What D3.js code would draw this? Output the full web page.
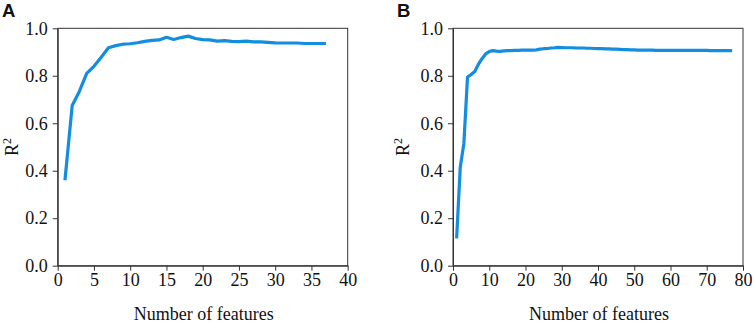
<!DOCTYPE html>
<html>
<head>
<meta charset="utf-8">
<script src="https://cdn.jsdelivr.net/npm/d3@7"></script>
<style>
  body { margin: 0; background: #fff; }
  svg text { font-family: "Liberation Serif", "Times New Roman", serif; fill: #111; }
  .domain, .tick line { stroke: #333; }
</style>
</head>
<body>
<svg id="chart" width="754" height="325"></svg>
<script>
// panel A: features 1..37
const featuresA = d3.range(1, 38);
const r2A = [0.36, 0.675, 0.735, 0.81, 0.84, 0.878, 0.918, 0.927, 0.933, 0.935,
  0.939, 0.945, 0.949, 0.951, 0.962, 0.953, 0.961, 0.967, 0.957, 0.952,
  0.951, 0.946, 0.948, 0.945, 0.944, 0.946, 0.943, 0.943, 0.941, 0.939,
  0.938, 0.938, 0.938, 0.936, 0.936, 0.936, 0.936];

// panel B: features 1..77
const featuresB = d3.range(1, 78);
const r2B = [0.115, 0.415, 0.515, 0.795, 0.805, 0.818, 0.848, 0.872, 0.892, 0.902,
  0.906, 0.904, 0.903, 0.905, 0.906, 0.906, 0.907, 0.907, 0.908, 0.908,
  0.908, 0.908, 0.909, 0.912, 0.914, 0.915, 0.917, 0.918, 0.920, 0.919,
  0.918, 0.918, 0.918, 0.917, 0.917, 0.917, 0.916, 0.916, 0.915, 0.914,
  0.914, 0.913, 0.913, 0.912, 0.912, 0.911, 0.910, 0.910, 0.909, 0.909,
  0.908, 0.908, 0.908, 0.908, 0.908, 0.907, 0.907, 0.907, 0.907, 0.907,
  0.907, 0.907, 0.907, 0.907, 0.907, 0.907, 0.907, 0.907, 0.907, 0.907,
  0.906, 0.906, 0.906, 0.906, 0.906, 0.906, 0.906];

const yTicks = [0, 0.2, 0.4, 0.6, 0.8, 1.0];
const xTicksA = [0, 5, 10, 15, 20, 25, 30, 35, 40];
const xTicksB = [0, 10, 20, 30, 40, 50, 60, 70, 80];

const svg = d3.select('#chart');
const lineColor = '#128de0';
const serif = '"Liberation Serif", "Times New Roman", serif';

function drawPanel(opts) {
  const { letter, letterX, left, right, xs, ys, xMax, xTicks, yTitleX } = opts;
  const top = 28.3, bottom = 265.7;

  const x = d3.scaleLinear().domain([0, xMax]).range([left, right]);
  const y = d3.scaleLinear().domain([0, 1]).range([bottom, top]);

  const g = svg.append('g');

  // frame
  g.append('rect')
    .attr('x', left).attr('y', top)
    .attr('width', right - left).attr('height', bottom - top)
    .attr('fill', 'none').attr('stroke', '#333').attr('stroke-width', 1);

  // x axis
  g.append('g')
    .attr('transform', `translate(0,${bottom})`)
    .call(d3.axisBottom(x).tickValues(xTicks).tickSize(5).tickSizeOuter(0).tickPadding(3))
    .call(a => a.selectAll('text').style('font-family', serif).style('font-size', '18px'));

  // y axis
  g.append('g')
    .attr('transform', `translate(${left},0)`)
    .call(d3.axisLeft(y).tickValues(yTicks).tickFormat(d3.format('.1f')).tickSize(5).tickSizeOuter(0).tickPadding(5))
    .call(a => a.selectAll('text').style('font-family', serif).style('font-size', '18px'));

  // line
  const line = d3.line()
    .x((d, i) => x(xs[i]))
    .y(d => y(d));
  g.append('path')
    .datum(ys)
    .attr('d', line)
    .attr('fill', 'none')
    .attr('stroke', lineColor)
    .attr('stroke-width', 3.2)
    .attr('stroke-linejoin', 'round');

  // axis titles
  g.append('text')
    .attr('x', (left + right) / 2 + 1)
    .attr('y', 320)
    .attr('text-anchor', 'middle')
    .style('font-size', '18px')
    .text('Number of features');

  const yt = g.append('text')
    .attr('transform', `translate(${yTitleX},${(top + bottom) / 2}) rotate(-90)`)
    .attr('text-anchor', 'middle')
    .style('font-size', '18px');
  yt.append('tspan').text('R');
  yt.append('tspan').attr('dy', -7).style('font-size', '12px').text('2');

  // panel letter
  svg.append('text')
    .attr('x', letterX).attr('y', 17)
    .style('font-family', '"Liberation Sans", Arial, sans-serif')
    .style('font-weight', 'bold')
    .style('font-size', '18.5px')
    .text(letter);
}

drawPanel({ letter: 'A', letterX: 2, left: 57.7, right: 347.7, xs: featuresA, ys: r2A,
  xMax: 40, xTicks: xTicksA, yTitleX: 18 });
drawPanel({ letter: 'B', letterX: 397, left: 453, right: 743, xs: featuresB, ys: r2B,
  xMax: 80, xTicks: xTicksB, yTitleX: 409 });
</script>
</body>
</html>
